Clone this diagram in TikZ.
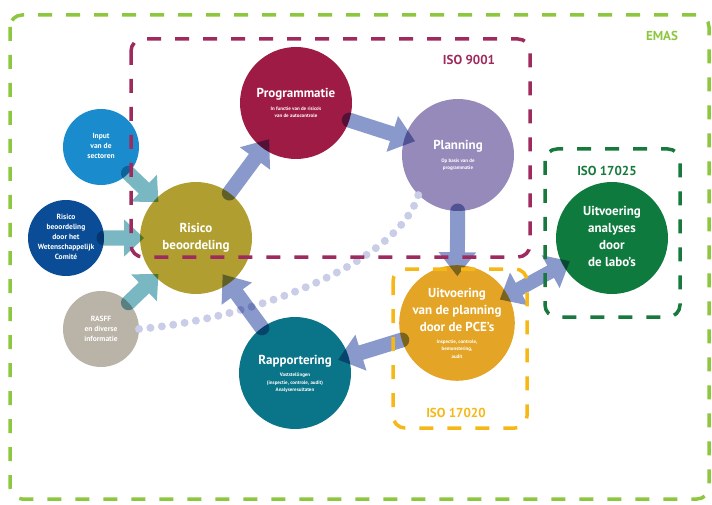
\documentclass[tikz,border=0pt]{standalone}
\usepackage{fontspec}
\setmainfont{PT Sans}
\usepackage{tikz}
\usetikzlibrary{arrows.meta}
\usepackage{xcolor}

\definecolor{cemas}{HTML}{8DC63F}
\definecolor{cnine}{HTML}{9E2A5E}
\definecolor{clabbox}{HTML}{177A3C}
\definecolor{cinsp}{HTML}{F6B817}
\definecolor{cprog}{HTML}{9E1B45}
\definecolor{cplan}{HTML}{968ABB}
\definecolor{crisk}{HTML}{B09F30}
\definecolor{crapp}{HTML}{0A7488}
\definecolor{cpce}{HTML}{E4A425}
\definecolor{clabo}{HTML}{0F7A3E}
\definecolor{cinput}{HTML}{1A8BCC}
\definecolor{cwc}{HTML}{0A4D96}
\definecolor{crasff}{HTML}{BAB3A8}
\definecolor{cflow}{HTML}{8A99CB}
\definecolor{cfeed}{HTML}{79B7C3}
\definecolor{cdots}{HTML}{CACDE8}

\newcommand{\btitle}[1]{{\fontsize{13}{17}\selectfont\begin{tabular}{@{}c@{}}#1\end{tabular}}}
\newcommand{\bdesc}[1]{{\fontsize{5}{7.5}\selectfont\begin{tabular}{@{}c@{}}#1\end{tabular}}}
\newcommand{\bsmall}[1]{{\fontsize{7.5}{10}\selectfont\begin{tabular}{@{}c@{}}#1\end{tabular}}}

\begin{document}
\begin{tikzpicture}
[x=1pt,y=-1pt,
bubble/.style={circle,inner sep=0pt,outer sep=0pt,minimum size=112pt,text=white,font=\bfseries,align=center},
smallbubble/.style={bubble,minimum size=76pt},
flow/.style={draw=cflow,line width=15pt,line cap=round,-{Triangle[width=36pt,length=24pt]},shorten >=-11pt},
feed/.style={flow,draw=cfeed,-{Triangle[width=36pt,length=20pt]},shorten >=-4pt},
normbox/.style={line width=3.5pt,rounded corners=12pt,dash pattern=on 14pt off 14pt},
boxlabel/.style={font=\bfseries\fontsize{13}{15}\selectfont},
]

\useasboundingbox (0,0) rectangle (712,505);

%Cycle circles
\node (prog) at (296,103)[bubble,fill=cprog] {\btitle{Programmatie}\\[1pt]\bdesc{In functie van de risico's\\van de autocontrole}};
\node (plan) at (458,155)[bubble,fill=cplan] {\btitle{Planning}\\[1pt]\bdesc{Op basis van de\\programmatie}};
\node (risk) at (196,238)[bubble,fill=crisk] {\btitle{Risico\\beoordeling}};
\node (rapp) at (295,373)[bubble,fill=crapp] {\btitle{Rapportering}\\[1pt]\bdesc{Vaststellingen\\(inspectie, controle, audit)\\Analyseresultaten}};
\node (pce) at (457,323)[bubble,fill=cpce] {\btitle{Uitvoering\\van de planning\\door de PCE's}\\[0pt]\bdesc{Inspectie, controle,\\bemonstering,\\audit}};
\node (labo) at (612,238)[bubble,fill=clabo] {\btitle{Uitvoering\\analyses\\door\\de labo's}};

%Input circles
\node (input) at (101,147)[smallbubble,fill=cinput] {\bsmall{Input\\van de\\sectoren}};
\node (wc) at (66,238)[smallbubble,fill=cwc] {\bsmall{Risico\\beoordeling\\door het\\Wetenschappelijk\\Comité}};
\node (rasff) at (101,329)[smallbubble,fill=crasff] {\bsmall{RASFF\\en diverse\\informatie}};

%Dotted link
\draw[cdots,line width=8pt,line cap=round,dash pattern=on 0pt off 11.5pt] (rasff.east) .. controls (260,318) and (400,260) .. (plan.225);

%Arrows
\begin{scope}[transparency group=knockout,blend mode=multiply]
\draw[feed] (input) -- (risk);
\draw[feed] (wc) -- (risk);
\draw[feed] (rasff) -- (risk);
\draw[flow] (risk) -- (prog);
\draw[flow] (prog) -- (plan);
\draw[flow] (plan) -- (pce);
\draw[flow] (pce) -- (rapp);
\draw[flow] (rapp) -- (risk);
\draw[flow,line width=14pt,line cap=butt,{Triangle[width=36pt,length=22pt]}-{Triangle[width=36pt,length=22pt]},shorten <=-9pt,shorten >=-8pt] (pce) -- (labo);
\end{scope}

%Norm frames
\draw[normbox,draw=cemas] (10,15) rectangle (709,499);
\draw[normbox,draw=cnine] (131,39) rectangle (530,257);
\draw[normbox,draw=clabbox] (545,149) rectangle (680,317);
\draw[normbox,draw=cinsp] (393,269) rectangle (527,428);

\node (emas) at (662,36)[boxlabel,text=cemas] {EMAS};
\node (nine) at (469,60)[boxlabel,text=cnine] {ISO 9001};
\node (labiso) at (607,171)[boxlabel,text=clabbox] {ISO 17025};
\node (inspiso) at (456,413)[boxlabel,text=cinsp] {ISO 17020};

\end{tikzpicture}
\end{document}
